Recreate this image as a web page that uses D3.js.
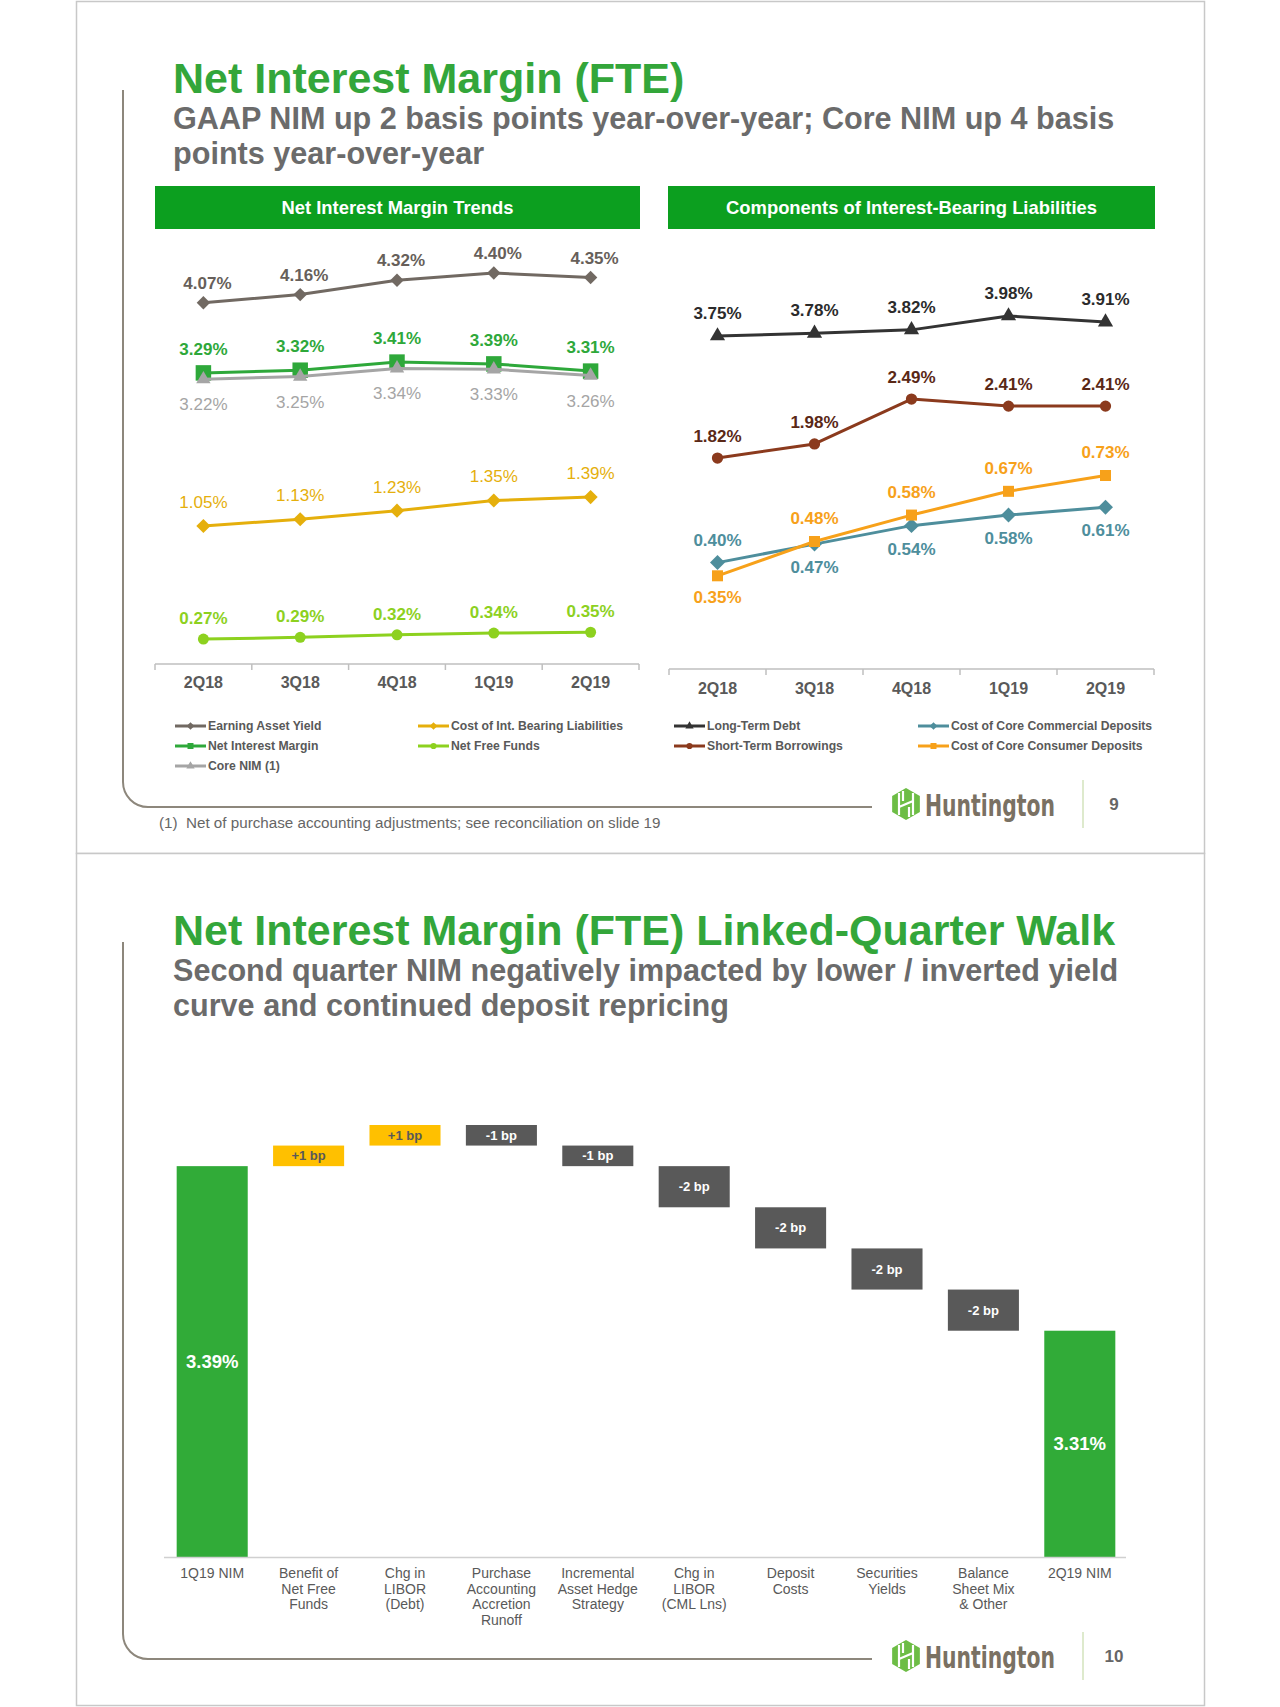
<!DOCTYPE html>
<html><head><meta charset="utf-8">
<script src="https://cdn.jsdelivr.net/npm/d3@7"></script>
<style>
html,body{margin:0;padding:0;background:#fff;}
svg{display:block;font-family:"Liberation Sans",Arial,Helvetica,sans-serif;}
</style></head><body>
<svg id="c" width="1280" height="1707"></svg>
<script>
// ---------------- DATA ----------------
const quarters = ["2Q18", "3Q18", "4Q18", "1Q19", "2Q19"];
const earningAssetYield = [4.07, 4.16, 4.32, 4.40, 4.35];
const netInterestMargin = [3.29, 3.32, 3.41, 3.39, 3.31];
const coreNIM = [3.22, 3.25, 3.34, 3.33, 3.26];
const costIntBearingLiab = [1.05, 1.13, 1.23, 1.35, 1.39];
const netFreeFunds = [0.27, 0.29, 0.32, 0.34, 0.35];
const longTermDebt = [3.75, 3.78, 3.82, 3.98, 3.91];
const shortTermBorrowings = [1.82, 1.98, 2.49, 2.41, 2.41];
const coreCommercialDeposits = [0.40, 0.47, 0.54, 0.58, 0.61];
const coreConsumerDeposits = [0.35, 0.48, 0.58, 0.67, 0.73];

const walkCategories = ["1Q19 NIM", "Benefit of\nNet Free\nFunds", "Chg in\nLIBOR\n(Debt)",
  "Purchase\nAccounting\nAccretion\nRunoff", "Incremental\nAsset Hedge\nStrategy",
  "Chg in\nLIBOR\n(CML Lns)", "Deposit\nCosts", "Securities\nYields",
  "Balance\nSheet Mix\n& Other", "2Q19 NIM"];
const walkStartNIM = 3.39;
const walkChangesBp = [1, 1, -1, -1, -2, -2, -2, -2];
const walkEndNIM = 3.31;

// ---------------- STYLE / LAYOUT ----------------
const GREEN_T = "#33a63a";
const GRAY_T = "#6b6b6b";
const svg = d3.select("#c");

// slide frames
[[1, 852], [853, 852]].forEach(([y0, h]) => {
  svg.append("rect").attr("x", 76.5).attr("y", y0 + 0.5).attr("width", 1128).attr("height", h)
    .attr("fill", "#fff").attr("stroke", "#c8c8c8").attr("stroke-width", 1.5);
});

function slideChrome(off, pageNum) {
  const r = 25, xl = 123, yb = 807 + off;
  svg.append("path")
    .attr("d", `M${xl},${90 + off} V${yb - r} A${r},${r} 0 0 0 ${xl + r},${yb} H872`)
    .attr("fill", "none").attr("stroke", "#8d877c").attr("stroke-width", 2);
  // logo icon
  const cx = 906, cy = 804 + off, R = 16;
  const hex = d3.range(6).map(i => {
    const a = Math.PI / 3 * i - Math.PI / 2;
    return [cx + R * Math.cos(a), cy + R * Math.sin(a)];
  });
  svg.append("path").attr("d", "M" + hex.join("L") + "Z").attr("fill", "#6dbd45");
  const g = svg.append("g").attr("stroke", "#fff").attr("stroke-width", 2.2).attr("fill", "none");
  g.append("path").attr("d", `M${cx - 7},${cy - 11} L${cx - 7},${cy + 11} M${cx + 7},${cy - 11} L${cx + 7},${cy + 11} M${cx - 7},${cy + 3} L${cx + 7},${cy - 3} M${cx - 3},${cy - 13} L${cx - 3},${cy - 3} M${cx + 3},${cy + 3} L${cx + 3},${cy + 13}`);
  svg.append("text").attr("x", 925).attr("y", 816 + off).attr("textLength", 130)
    .attr("lengthAdjust", "spacingAndGlyphs")
    .style("font-family", '"Liberation Sans Narrow","DejaVu Sans Condensed","Liberation Sans",Arial')
    .attr("font-weight", "bold").attr("font-size", 31).attr("fill", "#7a7163").text("Huntington");
  svg.append("line").attr("x1", 1083).attr("x2", 1083).attr("y1", 780 + off).attr("y2", 828 + off)
    .attr("stroke", "#d3e3bd").attr("stroke-width", 1.5);
  svg.append("text").attr("x", 1114).attr("y", 810 + off).attr("text-anchor", "middle")
    .attr("font-size", 17).attr("font-weight", "bold").attr("fill", "#666").text(pageNum);
}
slideChrome(0, "9");
slideChrome(852, "10");

function titles(off, title, sub1, sub2) {
  svg.append("text").attr("x", 173).attr("y", 93 + off).attr("font-size", 43).attr("font-weight", "bold")
    .attr("fill", GREEN_T).text(title);
  svg.append("text").attr("x", 173).attr("y", 129 + off).attr("font-size", 30.6).attr("font-weight", "bold")
    .attr("fill", GRAY_T).text(sub1);
  svg.append("text").attr("x", 173).attr("y", 164 + off).attr("font-size", 30.6).attr("font-weight", "bold")
    .attr("fill", GRAY_T).text(sub2);
}
titles(0, "Net Interest Margin (FTE)", "GAAP NIM up 2 basis points year-over-year; Core NIM up 4 basis", "points year-over-year");
titles(852, "Net Interest Margin (FTE) Linked-Quarter Walk", "Second quarter NIM negatively impacted by lower / inverted yield", "curve and continued deposit repricing");

// header boxes
[[155, 485, "Net Interest Margin Trends"], [668, 487, "Components of Interest-Bearing Liabilities"]].forEach(([x, w, t]) => {
  svg.append("rect").attr("x", x).attr("y", 186).attr("width", w).attr("height", 43).attr("fill", "#0c9f1f");
  svg.append("text").attr("x", x + w / 2).attr("y", 214).attr("text-anchor", "middle").attr("font-size", 18.4)
    .attr("font-weight", "bold").attr("fill", "#fff").text(t);
});

// ---------------- LINE CHARTS ----------------
function symPath(type, size) {
  const t = { diamond: d3.symbolSquare, square: d3.symbolSquare, triangle: d3.symbolTriangle, circle: d3.symbolCircle }[type];
  return d3.symbol(t, size)();
}

function lineChart(cfg) {
  const x = d3.scaleBand().domain(quarters).range(cfg.xRange);
  const cxp = q => x(q) + x.bandwidth() / 2;
  const g = svg.append("g");
  // axis
  const ax = g.append("g").attr("transform", `translate(0,${cfg.axisY})`)
    .call(d3.axisBottom(x).tickSize(0).tickPadding(cfg.tickPad));
  ax.select(".domain").remove();
  ax.selectAll("text").attr("font-size", 16).attr("font-weight", "bold").attr("fill", "#595959")
    .style("font-family", '"Liberation Sans",Arial,sans-serif');
  g.append("line").attr("x1", cfg.xRange[0]).attr("x2", cfg.xRange[1]).attr("y1", cfg.axisY).attr("y2", cfg.axisY)
    .attr("stroke", "#bfbfbf").attr("stroke-width", 1.5);
  const bounds = quarters.map(q => x(q)).concat([x(quarters[quarters.length - 1]) + x.bandwidth()]);
  g.selectAll(".tk").data(bounds).enter().append("line").attr("x1", d => d).attr("x2", d => d)
    .attr("y1", cfg.axisY).attr("y2", cfg.axisY + 6).attr("stroke", "#bfbfbf").attr("stroke-width", 1.5);

  cfg.series.forEach(s => {
    const y = s.scale;
    const line = d3.line().x((d, i) => cxp(quarters[i])).y(d => y(d));
    g.append("path").datum(s.values).attr("d", line).attr("fill", "none").attr("stroke", s.color)
      .attr("stroke-width", 3).attr("stroke-linejoin", "round");
    g.selectAll(null).data(s.values).enter().append("path")
      .attr("d", symPath(s.marker, s.size))
      .attr("transform", (d, i) => `translate(${cxp(quarters[i])},${y(d)})` + (s.marker === "diamond" ? " rotate(45)" : ""))
      .attr("fill", s.color);
    g.selectAll(null).data(s.values).enter().append("text")
      .attr("x", (d, i) => cxp(quarters[i]) + (s.dx || 0))
      .attr("y", (d, i) => y(d) + (s.labelPos[i] === "a" ? -s.above : s.below))
      .attr("text-anchor", "middle").attr("font-size", 17).attr("font-weight", s.weight)
      .attr("fill", s.labelColor).text(d => d.toFixed(2) + "%");
  });

  // legend
  cfg.series.forEach(s => {
    const [lx, ly] = s.legend;
    const lg = g.append("g");
    lg.append("line").attr("x1", lx).attr("x2", lx + 31).attr("y1", ly).attr("y2", ly)
      .attr("stroke", s.color).attr("stroke-width", 3);
    lg.append("path").attr("d", symPath(s.marker, s.marker === "square" ? 36 : 30))
      .attr("transform", `translate(${lx + 15.5},${ly})` + (s.marker === "diamond" ? " rotate(45)" : ""))
      .attr("fill", s.color);
    lg.append("text").attr("x", lx + 33).attr("y", ly + 4.3).attr("font-size", 12.2).attr("font-weight", "bold")
      .attr("fill", "#595959").text(s.name);
  });
}

// left chart: broken value scale (series bands stacked)
const yLeft = d3.scaleLinear().domain([0, 0.5, 0.9, 1.5, 3.1, 4.5]).range([662, 619.5, 538.8, 487.7, 390, 264]);
lineChart({
  xRange: [155, 639], axisY: 664, tickPad: 13,
  series: [
    { name: "Earning Asset Yield", values: earningAssetYield, scale: yLeft, color: "#716962", labelColor: "#675f5a", marker: "diamond", size: 90, weight: "bold", labelPos: ["a", "a", "a", "a", "a"], above: 14, below: 28, dx: 4, legend: [175, 726] },
    { name: "Net Interest Margin", values: netInterestMargin, scale: yLeft, color: "#2ea83a", labelColor: "#2ea83a", marker: "square", size: 240, weight: "bold", labelPos: ["a", "a", "a", "a", "a"], above: 18, below: 28, legend: [175, 746] },
    { name: "Core NIM (1)", values: coreNIM, scale: yLeft, color: "#a5a5a5", labelColor: "#a5a5a5", marker: "triangle", size: 90, weight: "normal", labelPos: ["b", "b", "b", "b", "b"], above: 16, below: 31, legend: [175, 766] },
    { name: "Cost of Int. Bearing Liabilities", values: costIntBearingLiab, scale: yLeft, color: "#e5af0c", labelColor: "#e5af0c", marker: "diamond", size: 100, weight: "normal", labelPos: ["a", "a", "a", "a", "a"], above: 18, below: 28, legend: [418, 726] },
    { name: "Net Free Funds", values: netFreeFunds, scale: yLeft, color: "#8dd11f", labelColor: "#8dd11f", marker: "circle", size: 95, weight: "bold", labelPos: ["a", "a", "a", "a", "a"], above: 15, below: 28, legend: [418, 746] }
  ]
});

// right chart: deposits and borrowings on separate value scales
const yDeposits = d3.scaleLinear().domain([0.3, 0.8]).range([589, 457]);
const yBorrow = d3.scaleLinear().domain([1.7, 2.6, 3.6, 4.1]).range([468.6, 389.4, 349, 305.5]);
lineChart({
  xRange: [669, 1154], axisY: 669, tickPad: 14,
  series: [
    { name: "Long-Term Debt", values: longTermDebt, scale: yBorrow, color: "#333333", labelColor: "#2b2b2b", marker: "triangle", size: 100, weight: "bold", labelPos: ["a", "a", "a", "a", "a"], above: 17, below: 28, legend: [674, 726] },
    { name: "Short-Term Borrowings", values: shortTermBorrowings, scale: yBorrow, color: "#8b3a1d", labelColor: "#5a2816", marker: "circle", size: 100, weight: "bold", labelPos: ["a", "a", "a", "a", "a"], above: 16, below: 28, legend: [674, 746] },
    { name: "Cost of Core Commercial Deposits", values: coreCommercialDeposits, scale: yDeposits, color: "#4e8e9c", labelColor: "#4e8e9c", marker: "diamond", size: 112, weight: "bold", labelPos: ["a", "b", "b", "b", "b"], above: 17, below: 29, legend: [918, 726] },
    { name: "Cost of Core Consumer Deposits", values: coreConsumerDeposits, scale: yDeposits, color: "#f7a11a", labelColor: "#f7a11a", marker: "square", size: 121, weight: "bold", labelPos: ["b", "a", "a", "a", "a"], above: 17, below: 27, legend: [918, 746] }
  ]
});

// footnote
svg.append("text").attr("x", 159).attr("y", 828).attr("font-size", 15.2).attr("fill", "#666")
  .style("white-space", "pre").text("(1)  Net of purchase accounting adjustments; see reconciliation on slide 19");

// ---------------- WATERFALL ----------------
const xW = d3.scaleBand().domain(walkCategories).range([164, 1128]).paddingInner(0.263).paddingOuter(0.1315);
const yW = d3.scaleLinear().domain([3.20, 3.41]).range([1557, 1125]);
const wg = svg.append("g");

const steps = [];
let level = walkStartNIM;
walkChangesBp.forEach((bp, i) => {
  const next = +(level + bp / 100).toFixed(4);
  steps.push({ cat: walkCategories[i + 1], from: level, to: next, bp });
  level = next;
});

// total bars
[[walkCategories[0], walkStartNIM], [walkCategories[walkCategories.length - 1], walkEndNIM]].forEach(([c, v]) => {
  wg.append("rect").attr("x", xW(c)).attr("width", xW.bandwidth()).attr("y", yW(v))
    .attr("height", yW.range()[0] - yW(v)).attr("fill", "#31ab38");
  wg.append("text").attr("x", xW(c) + xW.bandwidth() / 2).attr("y", (yW(v) + yW.range()[0]) / 2 + 6.5)
    .attr("text-anchor", "middle").attr("font-size", 18.5).attr("font-weight", "bold").attr("fill", "#fff")
    .text(v.toFixed(2) + "%");
});

steps.forEach(s => {
  const top = yW(Math.max(s.from, s.to)), bot = yW(Math.min(s.from, s.to));
  const pos = s.bp > 0;
  wg.append("rect").attr("x", xW(s.cat)).attr("width", xW.bandwidth()).attr("y", top).attr("height", bot - top)
    .attr("fill", pos ? "#ffc000" : "#595959");
  wg.append("text").attr("x", xW(s.cat) + xW.bandwidth() / 2).attr("y", (top + bot) / 2 + 4.5)
    .attr("text-anchor", "middle").attr("font-size", 13).attr("font-weight", "bold")
    .attr("fill", pos ? "#595959" : "#fff").text((pos ? "+" : "") + s.bp + " bp");
});

// axis
wg.append("line").attr("x1", 164).attr("x2", 1126).attr("y1", 1557.5).attr("y2", 1557.5)
  .attr("stroke", "#d0d0d0").attr("stroke-width", 1.5);
const wax = wg.append("g").attr("transform", "translate(0,1557)")
  .call(d3.axisBottom(xW).tickSize(0).tickFormat(() => ""));
wax.select(".domain").remove();
wax.selectAll(".tick").each(function (d) {
  const t = d3.select(this).append("text").attr("text-anchor", "middle").attr("font-size", 14)
    .attr("fill", "#595959").style("font-family", '"Liberation Sans",Arial,sans-serif');
  d.split("\n").forEach((ln, i) => {
    t.append("tspan").attr("x", 0).attr("y", 21 + i * 15.7).text(ln);
  });
});
</script>
</body></html>
